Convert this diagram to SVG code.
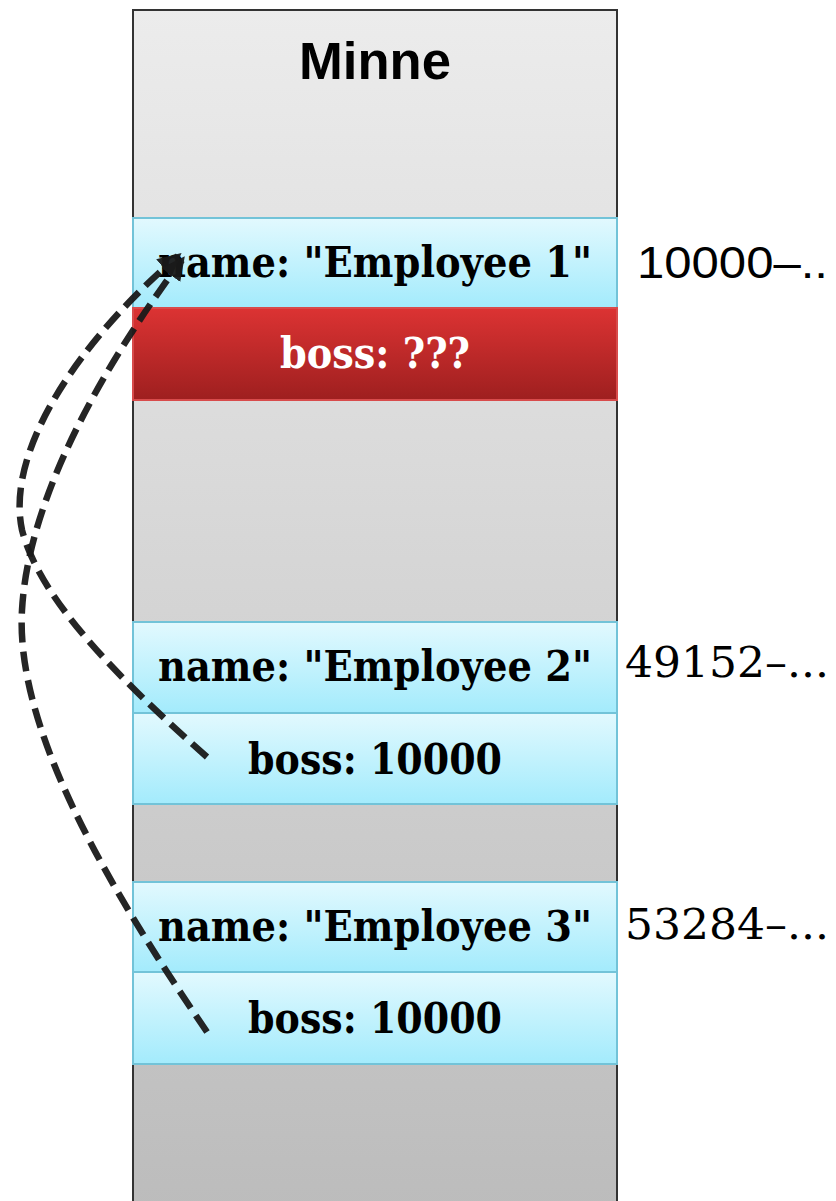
<svg xmlns="http://www.w3.org/2000/svg" width="836" height="1201" viewBox="0 0 836 1201">
  <defs>
    <linearGradient id="memBg" x1="0" y1="0" x2="0" y2="1">
      <stop offset="0" stop-color="#ececec"/>
      <stop offset="1" stop-color="#bcbcbc"/>
    </linearGradient>
    <linearGradient id="cellBlue" x1="0" y1="0" x2="0" y2="1">
      <stop offset="0" stop-color="#e2f9fe"/>
      <stop offset="1" stop-color="#a3ebfc"/>
    </linearGradient>
    <linearGradient id="cellRed" x1="0" y1="0" x2="0" y2="1">
      <stop offset="0" stop-color="#dc3333"/>
      <stop offset="1" stop-color="#9e1f1f"/>
    </linearGradient>
    <marker id="arrow" viewBox="0 0 10 10" refX="8" refY="5" markerWidth="3.6" markerHeight="3.6" orient="auto" markerUnits="strokeWidth">
      <path d="M0,0 L10,5 L0,10 z" fill="#1a1a1a"/>
    </marker>
    <style>
      .cell { fill: url(#cellBlue); stroke: #72c3d8; stroke-width: 2; }
      .bad { fill: url(#cellRed); stroke: #d84b4b; stroke-width: 2; }
      .field { font-family: "DejaVu Serif", "Liberation Serif", serif; font-weight: bold; font-size: 42px; text-anchor: middle; fill: #000; }
      .addr { font-family: "DejaVu Serif", "Liberation Serif", serif; font-size: 42px; fill: #000; }
      .link { fill: none; stroke: #1a1a1a; stroke-width: 6.5; stroke-dasharray: 20 9; opacity: 0.95; }
    </style>
  </defs>

  <!-- memory column -->
  <g id="memory">
    <rect x="133" y="10" width="484" height="1200" fill="url(#memBg)" stroke="#333" stroke-width="2"/>
    <text x="375" y="79" font-family="Liberation Sans, Arial, sans-serif" font-weight="bold" font-size="51" text-anchor="middle" textLength="152" lengthAdjust="spacingAndGlyphs">Minne</text>
  </g>

  <!-- employee 1 at 10000 -->
  <g id="employee1">
    <rect class="cell" x="133" y="218" width="484" height="90"/>
    <text class="field" x="375" y="277" textLength="434" lengthAdjust="spacingAndGlyphs">name: "Employee 1"</text>
    <rect class="bad" x="133" y="308" width="484" height="92"/>
    <text class="field" x="375" y="368" style="fill:#fff" textLength="190" lengthAdjust="spacingAndGlyphs">boss: ???</text>
    <text x="637" y="278" font-family="Liberation Sans, Arial, sans-serif" font-size="45" textLength="191" lengthAdjust="spacingAndGlyphs">10000–..</text>
  </g>

  <!-- employee 2 at 49152 -->
  <g id="employee2">
    <rect class="cell" x="133" y="622" width="484" height="91"/>
    <text class="field" x="375" y="681" textLength="434" lengthAdjust="spacingAndGlyphs">name: "Employee 2"</text>
    <rect class="cell" x="133" y="713" width="484" height="91"/>
    <text class="field" x="375" y="774" textLength="254" lengthAdjust="spacingAndGlyphs">boss: 10000</text>
    <text class="addr" x="625" y="677" textLength="204" lengthAdjust="spacingAndGlyphs">49152–...</text>
  </g>

  <!-- employee 3 at 53284 -->
  <g id="employee3">
    <rect class="cell" x="133" y="882" width="484" height="90"/>
    <text class="field" x="375" y="941" textLength="434" lengthAdjust="spacingAndGlyphs">name: "Employee 3"</text>
    <rect class="cell" x="133" y="972" width="484" height="92"/>
    <text class="field" x="375" y="1033" textLength="254" lengthAdjust="spacingAndGlyphs">boss: 10000</text>
    <text class="addr" x="625" y="939" textLength="204" lengthAdjust="spacingAndGlyphs">53284–...</text>
  </g>

  <!-- boss pointers -->
  <g id="connectors">
    <path class="link" d="M207,757 C120,680 40,600 22,530 C5,450 80,340 178,256" marker-end="url(#arrow)"/>
    <path class="link" d="M207,1032 C110,890 15,730 22,610 C28,500 100,370 182,260" marker-end="url(#arrow)"/>
  </g>
</svg>
